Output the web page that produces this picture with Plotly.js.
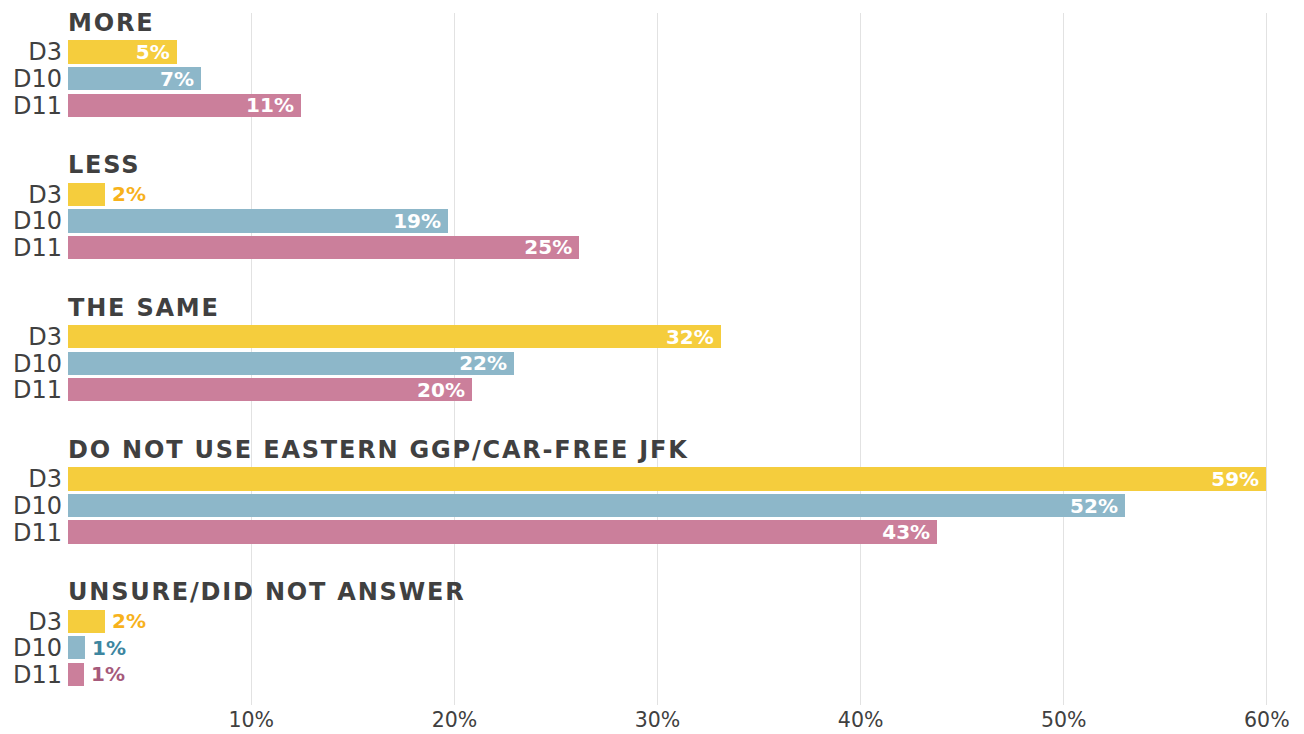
<!DOCTYPE html>
<html>
<head>
<meta charset="utf-8">
<script src="https://cdn.plot.ly/plotly-3.0.1.min.js"></script>
<style>html,body{margin:0;padding:0;background:#fff;}#chart{width:1304px;height:734px;}</style>
</head>
<body>
<div id="chart"></div>
<script>
// ---- data ----
const categories = ['MORE', 'LESS', 'THE SAME', 'DO NOT USE EASTERN GGP/CAR-FREE JFK', 'UNSURE/DID NOT ANSWER'];
const seriesNames = ['D3', 'D10', 'D11'];
// bar lengths (labels show them rounded)
const d3Values  = [5.35, 1.82, 32.14, 58.99, 1.82];
const d10Values = [6.55, 18.71, 21.96, 52.04, 0.84];
const d11Values = [11.47, 25.17, 19.89, 42.79, 0.79];
const xTickValues = [10, 20, 30, 40, 50, 60];
const xTickLabels = ['10%', '20%', '30%', '40%', '50%', '60%'];

// ---- styling ----
const barColors = ['#f5cd3d', '#8db7c9', '#cb7f9b'];
const outsideColors = ['#f7b21c', '#3d86a0', '#a65a7b'];
const textDark = '#404040';
const FONT = '"DejaVu Sans", "Liberation Sans", sans-serif';
const THIN = '\u2009';

const GROUP_STEP = 5.35;   // rows between group titles
const FIRST_ROW = 1.09;    // title -> first bar
const allValues = [d3Values, d10Values, d11Values];

const traces = seriesNames.map((name, k) => {
  const vals = allValues[k];
  const ys = categories.map((c, g) => g * GROUP_STEP + FIRST_ROW + k);
  const pos = vals.map(v => v < 3 ? 'outside' : 'inside');
  return {
    type: 'bar',
    orientation: 'h',
    name: name,
    x: vals,
    y: ys,
    width: 0.877,
    marker: {color: barColors[k]},
    text: vals.map((v, i) => pos[i] === 'inside' ? Math.round(v) + '%' + THIN : THIN + Math.round(v) + '%'),
    textposition: pos,
    insidetextanchor: 'end',
    constraintext: 'none',
    cliponaxis: false,
    insidetextfont: {family: FONT, size: 20, color: '#ffffff', weight: 700},
    outsidetextfont: {family: FONT, size: 20, color: outsideColors[k], weight: 700},
    hoverinfo: 'skip',
    showlegend: false
  };
});

// empty trace to attach the gridline axis
traces.push({type: 'scatter', x: [], y: [], xaxis: 'x2', yaxis: 'y', showlegend: false, hoverinfo: 'skip'});

const tickVals = [];
const tickText = [];
categories.forEach((c, g) => {
  seriesNames.forEach((s, k) => {
    tickVals.push(g * GROUP_STEP + FIRST_ROW + k);
    tickText.push(s);
  });
});

const annotations = categories.map((c, g) => ({
  xref: 'paper', yref: 'y',
  x: 0, y: g * GROUP_STEP,
  xanchor: 'left', yanchor: 'middle',
  xshift: -2,
  text: '<span style="letter-spacing:1.8px">' + c + '</span>',
  showarrow: false,
  font: {family: FONT, size: 24, color: textDark, weight: 700}
}));

const BAR_MAX = 59.18;
const GRID_SHIFT = 0.975;

const layout = {
  width: 1304, height: 734,
  margin: {l: 68, r: 34, t: 13, b: 29},
  paper_bgcolor: '#ffffff', plot_bgcolor: '#ffffff',
  bargap: 0,
  xaxis: {
    range: [0, BAR_MAX],
    showgrid: false, zeroline: false, showline: false,
    showticklabels: false, ticks: ''
  },
  xaxis2: {
    overlaying: 'x', side: 'bottom', anchor: 'y',
    range: [GRID_SHIFT, BAR_MAX + GRID_SHIFT],
    tickvals: xTickValues, ticktext: xTickLabels,
    showgrid: true, gridcolor: '#e2e2e2', gridwidth: 1,
    zeroline: false, showline: false, ticks: '',
    tickfont: {family: FONT, size: 20.5, color: textDark},
    layer: 'below traces'
  },
  yaxis: {
    range: [25.64, -0.376],
    tickvals: tickVals, ticktext: tickText,
    showgrid: false, zeroline: false, showline: false, ticks: '',
    tickfont: {family: FONT, size: 24, color: textDark},
    ticklabelstandoff: 5
  },
  annotations: annotations,
  font: {family: FONT}
};

Plotly.newPlot('chart', traces, layout, {displayModeBar: false, staticPlot: true});
</script>
</body>
</html>
